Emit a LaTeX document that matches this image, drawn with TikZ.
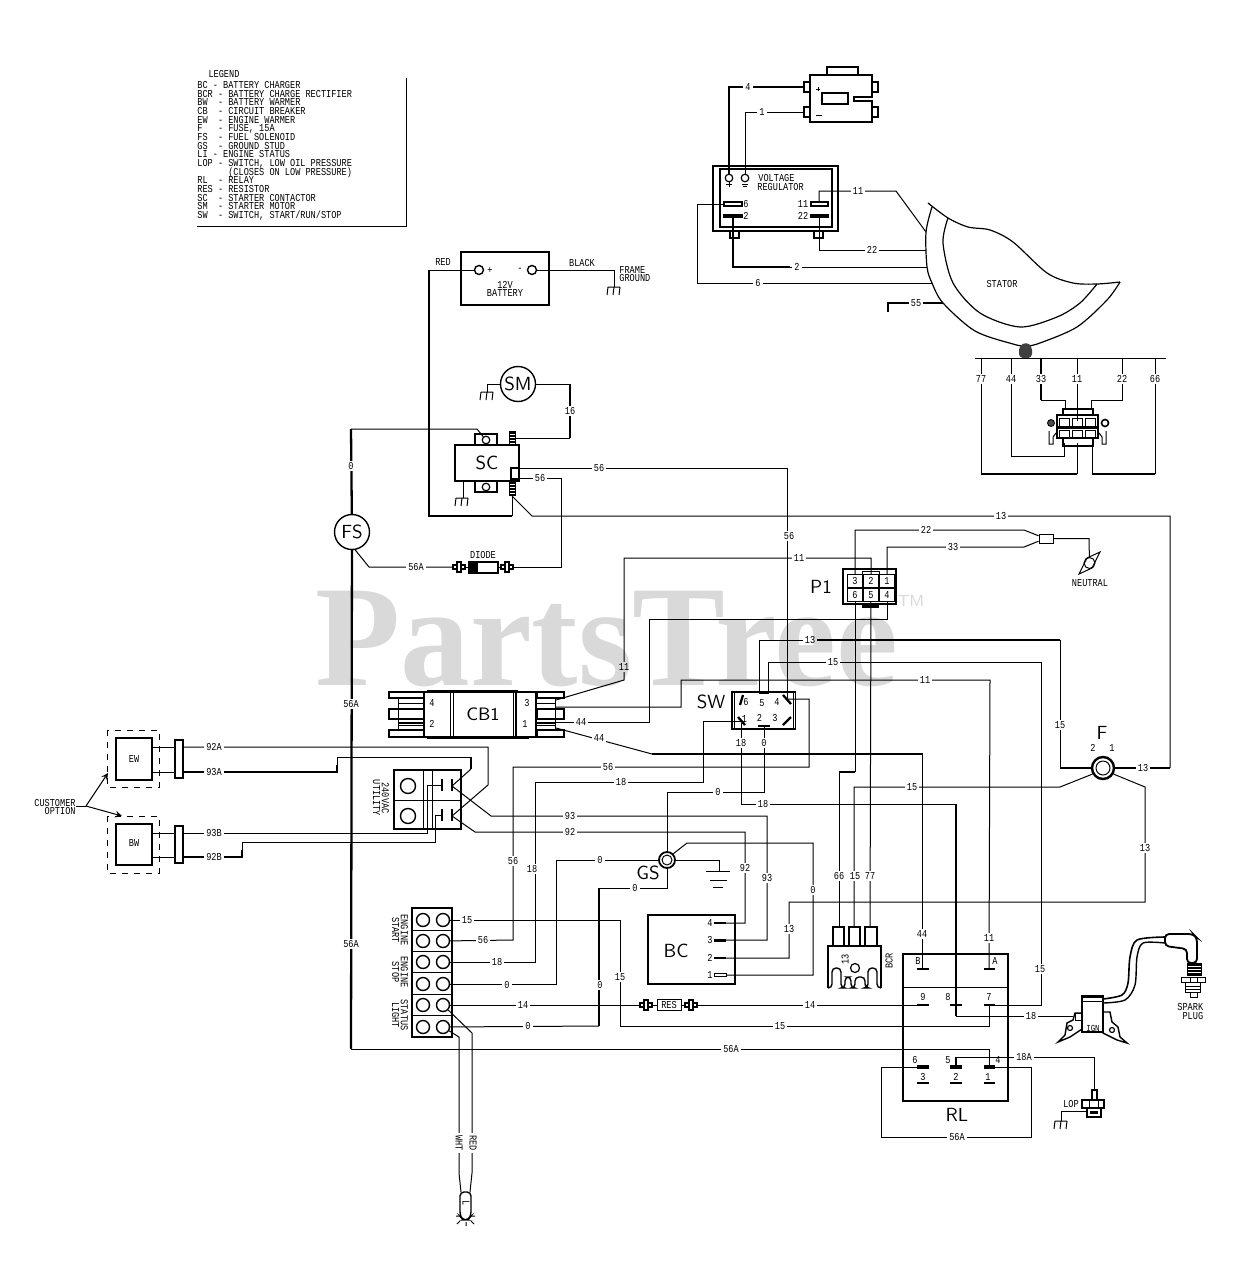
\documentclass[tikz,border=0pt]{standalone}
\usepackage{fontspec}
\setmainfont{Liberation Mono}[FakeStretch=0.81]
\newfontfamily\wmfont{Liberation Serif}[FakeStretch=0.967]
\tikzset{
  x=0.5pt,y=-0.5pt,
  wire/.style={line width=0.5pt,line join=miter},
  hvw/.style={line width=1.15pt,line join=miter},
  part/.style={line width=0.6pt,fill=white},
  txt/.style={font=\fontsize{5.3}{4.4}\selectfont,inner sep=0pt,align=center},
  lbl/.style={txt,fill=white,inner xsep=1pt,inner ysep=0.6pt},
  biglbl/.style={font=\sffamily\fontsize{9.5}{12}\selectfont,inner sep=0pt},
  term/.style={circle,draw,line width=0.7pt,fill=white,inner sep=0pt,minimum size=6.5pt},
  smallterm/.style={circle,draw,line width=0.6pt,fill=white,inner sep=0pt,minimum size=3.8pt},
  cell/.style={draw,line width=0.7pt,fill=white,inner sep=0pt,minimum width=7.5pt,minimum height=6.5pt,font=\fontsize{5.3}{5}\selectfont},
}
\def\frameground(#1,#2) {\draw[wire] (#1-6,#2)--(#1+6,#2) (#1-6,#2)--(#1-7,#2+8) (#1,#2)--(#1-1,#2+8) (#1+6,#2)--(#1+5,#2+8);}
\def\plugbit(#1,#2) {\draw[part] (#1-6,#2-2) rectangle (#1+6,#2+2); \draw[part] (#1-2,#2-5) rectangle (#1+2,#2+5);}
\begin{document}
\begin{tikzpicture}
	\useasboundingbox (0,0) rectangle (1233,1280);
	\fill[white] (0,0) rectangle (1233,1280);

	%LEGEND
	\node[txt,anchor=base] (legendhead) at (224,77) {LEGEND};
	\node[font={\fontsize{5.3}{4.33}\selectfont\lineskiplimit=-5pt\relax},inner sep=0pt,align=left,anchor=north west] (legendtext) at (197,81) {%
		BC - BATTERY CHARGER\\
		BCR - BATTERY CHARGE RECTIFIER\\
		BW~~- BATTERY WARMER\\
		CB~~- CIRCUIT BREAKER\\
		EW~~- ENGINE WARMER\\
		F~~~- FUSE, 15A\\
		FS~~- FUEL SOLENOID\\
		GS~~- GROUND STUD\\
		LI~- ENGINE STATUS\\
		LOP - SWITCH, LOW OIL PRESSURE\\
		~~~~~~(CLOSES ON LOW PRESSURE)\\
		RL~~- RELAY\\
		RES - RESISTOR\\
		SC~~- STARTER CONTACTOR\\
		SM~~- STARTER MOTOR\\
		SW~~- SWITCH, START/RUN/STOP};
	\draw[wire] (406,78)--(406,226)--(197,226);

	%METER
	\draw[part] (827,67) rectangle (858,75);
	\draw[part] (804,82) rectangle (810,92);
	\draw[part] (804,107) rectangle (810,117);
	\draw[part] (872,82) rectangle (878,92);
	\draw[part] (872,107) rectangle (878,117);
	\draw[line width=0.7pt] (872,97)--(854,97)--(854,101)--(872,101)--(872,122)--(810,122)--(810,75)--(872,75)--cycle;
	\draw[line width=0.7pt] (822,93) rectangle (848,104);
	\draw[wire] (816,89)--(820,89) (818,87)--(818,91) (816,115)--(822,115);
	\coordinate (meterp) at (804,87);
	\coordinate (meterm) at (804,112);

	%VOLTAGE REGULATOR
	\draw[part] (730,231) rectangle (739,238);
	\draw[part] (814,231) rectangle (823,238);
	\draw[line width=0.7pt] (713,166) rectangle (838,231);
	\draw[line width=0.7pt] (720,169) rectangle (832,227);
	\draw[hvw] (713,166)--(838,166) (720,169)--(832,169);
	\node[smallterm] (vrplus) at (729,178) {};
	\node[smallterm] (vrminus) at (745,178) {};
	\draw[wire] (729,181)--(729,187) (726,184)--(732,184) (742,184)--(748,184) (743,186)--(747,186);
	\node[txt,anchor=west] (vrtext) at (758,178) {VOLTAGE};
	\node[txt,anchor=west] (vrtextb) at (757,187) {REGULATOR};
	\draw[part] (724,202) rectangle (742,206);
	\draw[line width=1pt,fill=white] (724,214.5) rectangle (742,217);
	\draw[part] (811,202) rectangle (828,206);
	\draw[line width=1pt,fill=white] (811,214.5) rectangle (828,217);
	\node[txt] (vrsix) at (746,204) {6};
	\node[txt] (vrtwo) at (746,216) {2};
	\node[txt] (vreleven) at (803,204) {11};
	\node[txt] (vrtwotwo) at (803,216) {22};
	\coordinate (vr6) at (724,204);
	\coordinate (vr2) at (733,217);
	\coordinate (vr11) at (819,202);
	\coordinate (vr22) at (819,217);

	%STATOR
	\coordinate (st11) at (926,232);
	\coordinate (st22) at (926,250);
	\coordinate (st2) at (927,267);
	\coordinate (st6) at (932,283);
	\coordinate (st55) at (943,303);
	\draw[line width=0.6pt] plot[smooth] coordinates {(928,203) (948,218) (968,227) (990,230) (1013,242) (1047,273) (1073,283) (1097,284) (1120,282)};
	\draw[line width=0.6pt] plot[smooth] coordinates {(932,207) (926,232) (927,267) (932,283) (943,303) (975,331) (1013,344) (1026,346) (1040,343) (1077,327) (1107,300) (1120,282)};
	\draw[line width=0.6pt] plot[smooth] coordinates {(948,218) (943,243) (953,283) (980,313) (1020,327) (1057,317) (1080,303) (1097,284)};
	\node[txt] (statorname) at (1002,284) {STATOR};
	\fill[black!75,rounded corners=2pt] (1019,358) -- (1019,346) -- (1026,342) -- (1032,346) -- (1032,358) -- cycle;
	\draw[wire] (975,358)--(1166,358);

	%STATOR PLUG
	\draw[part] (1063,409) rectangle (1093,446);
	\draw[line width=0.9pt,fill=white] (1057,415) rectangle (1098,427);
	\draw[line width=0.9pt,fill=white] (1057,428) rectangle (1098,438);
	\foreach \px in {1064,1077,1090} {
		\draw[wire] (\px-5,418) rectangle (\px+5,426);
		\draw[wire] (\px-5,430) rectangle (\px+5,437);
	}
	\node[circle,draw,fill=black!70,inner sep=0pt,minimum size=3.5pt] (plugscrewa) at (1051,423) {};
	\node[circle,draw,fill=white,line width=0.8pt,inner sep=0pt,minimum size=3.5pt] (plugscrewb) at (1105,423) {};
	\draw[wire] (1049,431)--(1049,444)--(1053,444)--(1053,437)--(1056,433);
	\draw[wire] (1106,431)--(1106,444)--(1102,444)--(1102,437)--(1099,433);

	%BATTERY, STARTER
	\draw[line width=0.7pt] (461,252) rectangle (549,305);
	\node[circle,draw,line width=0.7pt,inner sep=0pt,minimum size=4.5pt] (battp) at (479,270) {};
	\node[circle,draw,line width=0.7pt,inner sep=0pt,minimum size=4.5pt] (battm) at (532,270) {};
	\node[txt] (battplus) at (490,270) {+};
	\node[txt] (battminus) at (520,270) {-};
	\node[txt] (battname) at (505,289) {12V\\BATTERY};
	\node[txt] (redname) at (443,262) {RED};
	\node[txt] (blackname) at (582,263) {BLACK};
	\node[txt,align=left,anchor=west] (framename) at (619,274) {FRAME\\GROUND};
	\frameground(614,287)
	\node[circle,draw,line width=0.7pt,inner sep=0pt,minimum size=17.5pt,font=\sffamily\fontsize{9.5}{12}\selectfont] (sm) at (518,384) {SM};
	\frameground(487,392)
	\node[draw,line width=0.7pt,fill=white,inner sep=0pt,minimum width=32pt,minimum height=18pt,font=\sffamily\fontsize{9.5}{12}\selectfont] (sc) at (487,463) {SC};
	\draw[part] (475,434) rectangle (497,445);
	\draw[part] (475,481) rectangle (497,492);
	\node[smallterm] (scpost) at (486,440) {};
	\node[smallterm] (scpostb) at (486,487) {};
	\fill (509,431) rectangle (516,445);
	\fill (509,481) rectangle (516,496);
	\foreach \sy in {434,437,440,443,484,487,490,493}
		\draw[white,line width=0.4pt] (510,\sy)--(515,\sy);
	\draw[line width=0.7pt,fill=white] (511,468) rectangle (519,479);
	\frameground(462,498)
	\coordinate (scstud) at (516,438);
	\coordinate (scstudb) at (512,496);
	\coordinate (scspade) at (519,468);
	\coordinate (scspadeb) at (519,478);

	%FS, DIODE
	\node[circle,draw,line width=0.7pt,inner sep=0pt,minimum size=17.5pt,font=\sffamily\fontsize{9.5}{12}\selectfont] (fs) at (352,532) {FS};
	\plugbit(459,567)
	\plugbit(507,567)
	\draw[part] (469,562) rectangle (498,573);
	\fill (469,562) rectangle (478,573);
	\node[txt] (diodename) at (483,555) {DIODE};

	%P1, NEUTRAL
	\draw[line width=1pt] (843,569) rectangle (896,604);
	\draw[wire,fill=white] (862,571) rectangle (879,575);
	\fill (862,604) rectangle (879,608);
	\node[cell] (pc3) at (855,581) {3};
	\node[cell] (pc2) at (871,581) {2};
	\node[cell] (pc1) at (887,581) {1};
	\node[cell] (pc6) at (855,595) {6};
	\node[cell] (pc5) at (871,595) {5};
	\node[cell] (pc4) at (887,595) {4};
	\node[biglbl] (p1name) at (821,587) {P1};
	\node[draw,wire,fill=white,inner sep=0pt,minimum width=7pt,minimum height=4.5pt] (ntbox) at (1046,538.5) {};
	\node[circle,draw,wire,inner sep=0pt,minimum size=5.5pt] (nt) at (1089.5,563) {};
	\draw[wire] (1100,552)--(1092,568)--(1079,574)--(1087,558)--cycle;
	\node[txt] (ntname) at (1090,583) {NEUTRAL};

	%SW
	\draw[line width=0.7pt] (732,692) rectangle (795.5,729);
	\draw[wire] (734,692)--(734,729) (793.5,692)--(793.5,729);
	\node[biglbl] (swname) at (711,702) {SW};
	\foreach \sx/\sy/\st [count=\si] in {746/702/6,762/703/5,777/702/4,744.5/719/1,759.5/718/2,775/718/3}
		\node[txt] (swpin\si) at (\sx,\sy) {\st};
	\draw[hvw] (740,705)--(743,695) (783,695)--(791,704) (738,717)--(745,725) (783,725)--(791,717);
	\draw[hvw] (759,693)--(769,693) (758,726)--(770,726);

	%FUSE
	\node[circle,draw,line width=1.2pt,inner sep=0pt,minimum size=11pt] (fuse) at (1103,768) {};
	\draw[wire] (1103,768) circle (7);
	\node[biglbl] (fusename) at (1102,733) {F};
	\node[txt] (fusetwo) at (1093,748) {2};
	\node[txt] (fuseone) at (1112,748) {1};

	%CB1
	\foreach \cy/\ch in {692/6,709/10,730/7} {
		\draw[part] (389,\cy) rectangle (424,\cy+\ch);
		\draw[part] (537,\cy) rectangle (564,\cy+\ch);
	}
	\draw[wire] (398,698)--(398,730) (555,698)--(555,730);
	\draw[wire] (398,703)--(424,703) (398,725)--(424,725) (537,703)--(555,703) (537,725)--(555,725);
	\draw[line width=0.8pt] (398,723)--(424,723) (537,723)--(555,723);
	\draw[line width=0.7pt] (424,692) rectangle (536,737);
	\draw[wire] (427,737) rectangle (528,738.5);
	\draw[hvw] (427,691.5)--(518,691.5);
	\draw[wire] (450,692)--(450,737) (453,692)--(453,737) (513,692)--(513,737);
	\draw[line width=0.9pt] (516,692)--(516,737);
	\node[font=\sffamily\fontsize{9}{11}\selectfont,inner sep=0pt] (cbname) at (483,714) {CB1};
	\foreach \cx/\cy/\ct [count=\ci] in {432/703/4,432/724/2,527/703/3,525/724/1}
		\node[txt] (cbpin\ci) at (\cx,\cy) {\ct};
	\coordinate (cb3) at (556,700);
	\coordinate (cbm) at (556,707);
	\coordinate (cb1) at (556,722);
	\coordinate (cbb) at (556,728);

	%WARMERS
	\draw[dashed,wire] (107,730) rectangle (159,787);
	\draw[dashed,wire] (107,816) rectangle (159,873);
	\draw[line width=0.7pt] (116,738) rectangle (152,780);
	\draw[line width=0.7pt] (116,824) rectangle (152,865);
	\node[txt] (ewname) at (134,759) {EW};
	\node[txt] (bwname) at (134,843) {BW};
	\draw[line width=0.7pt,fill=white] (175,740) rectangle (183,778);
	\draw[line width=0.7pt,fill=white] (175,826) rectangle (183,863);
	\draw[wire] (152,747)--(175,747) (152,772)--(175,772) (152,833)--(175,833) (152,857)--(175,857);
	\node[txt,anchor=east,align=right] (custopt) at (76,807) {CUSTOMER\\OPTION};
	\coordinate (optjoin) at (86,806);
	\coordinate (optew) at (108,773);
	\coordinate (optbw) at (122,816);
	\draw[wire] (custopt.east |- optjoin)--(optjoin);
	\draw[wire,->,>=stealth] (optjoin)--(optew);
	\draw[wire,->,>=stealth] (optjoin)--(optbw);

	%UTILITY OUTLET
	\draw[line width=0.7pt] (394,770) rectangle (461,829);
	\draw[wire] (394,800)--(461,800) (423,770)--(423,829) (432,770)--(432,829);
	\node[term,fill=none,minimum size=7.5pt] (outa) at (408,786) {};
	\node[term,fill=none,minimum size=7.5pt] (outb) at (408,816) {};
	\draw[line width=1pt] (442,779)--(442,791) (452,779)--(452,791) (442,809)--(442,821) (452,809)--(452,821);
	\node[txt,rotate=-90] (utilname) at (381,798) {240VAC\\UTILITY};
	\coordinate (outla) at (442,785);
	\coordinate (outlb) at (442,815);
	\coordinate (outra) at (452,786);
	\coordinate (outrb) at (452,816);

	%ENGINE TERMINAL STRIP
	\draw[line width=0.7pt] (412,908) rectangle (452,1037);
	\foreach \ty [count=\ti] in {920,941,962,984,1005,1027} {
		\node[term] (tl\ti) at (423,\ty) {};
		\node[term] (tr\ti) at (443,\ty) {};
	}
	\draw[wire] (412,930.5)--(452,930.5) (412,951.5)--(452,951.5) (412,972.5)--(452,972.5) (412,994.5)--(452,994.5) (412,1015.5)--(452,1015.5);
	\node[txt,rotate=-90] (tsstart) at (400,930) {ENGINE\\START};
	\node[txt,rotate=-90] (tsstop) at (400,972) {ENGINE\\STOP};
	\node[txt,rotate=-90] (tslight) at (400,1015) {STATUS\\LIGHT};

	%STATUS LAMP
	\draw[line width=0.7pt,rounded corners=2pt] (460,1192)--(460,1216)--(463,1220)--(468,1220)--(471,1216)--(471,1192)--cycle;
	\node[txt,rotate=-90] (lampname) at (466,1203) {L};
	\draw[wire] (456,1216)--(460,1216) (471,1216)--(475,1216) (460,1221)--(457,1224) (471,1221)--(474,1224) (466,1222)--(466,1226);
	\coordinate (lampw) at (461,1192);
	\coordinate (lampr) at (470,1192);

	%GS
	\node[circle,draw,line width=0.9pt,inner sep=0pt,minimum size=8pt] (gs) at (667,860) {};
	\draw[wire] (667,860) circle (5);
	\node[biglbl] (gsname) at (648,873) {GS};
	\coordinate (earth) at (719,871);
	\draw[wire] (706,871)--(730,871) (710,880)--(727,880) (713,887)--(723,887);

	%BC
	\draw[line width=0.7pt] (648,915) rectangle (735,984);
	\node[biglbl] (bcname) at (676,951) {BC};
	\foreach \by/\bt [count=\bi] in {923/4,940/3,958/2,975/1} {
		\node[txt] (bcpin\bi) at (710,\by) {\bt};
		\coordinate (bc\bt) at (726,\by);
	}
	\draw[line width=1pt] (714,923)--(726,923) (714,958)--(726,958);
	\draw[line width=1.5pt] (714,940)--(726,940);
	\draw[line width=0.4pt] (714,973.5)--(726,973.5)--(726,976.5)--(714,976.5)--cycle;

	%RES
	\plugbit(646,1005)
	\plugbit(691,1005)
	\node[draw,wire,fill=white,inner sep=0pt,minimum width=12pt,minimum height=5.5pt,font=\fontsize{5.3}{5}\selectfont] (res) at (669,1005) {RES};

	%BCR
	\foreach \bx/\bw in {833/11,849/11,865/12}
		\draw[line width=0.7pt,fill=white] (\bx,927) rectangle (\bx+\bw,946);
	\draw[line width=0.7pt] (828,988)--(828,946)--(881,946)--(881,988);
	\draw[line width=0.7pt,rounded corners=2pt] (828,988)--(832,988)--(832,968)--(841,968)--(841,988)--(845,988)--(845,977)--(851,977)--(851,988)--(855,988)--(855,977)--(865,977)--(865,988)--(868,988)--(868,968)--(877,968)--(877,988)--(881,988);
	\node[smallterm,minimum size=4.5pt] (bcrpost) at (855,968) {};
	\node[txt,rotate=90] (bcrthirteen) at (845,959) {13};
	\node[txt,rotate=90] (bcrname) at (889,961) {BCR};
	\coordinate (bcr66) at (839,927);
	\coordinate (bcr15) at (854,927);
	\coordinate (bcr77) at (870,927);

	%RELAY
	\draw[line width=0.7pt] (903,954) rectangle (1008,1101);
	\draw[wire] (903,987)--(1008,987);
	\draw[hvw] (917,969)--(929,969) (984,969)--(995,969) (917,1005)--(929,1005) (950,1005)--(962,1005) (984,1005)--(995,1005);
	\draw[line width=1.6pt] (917,1067)--(929,1067) (950,1067)--(962,1067) (984,1067)--(995,1067);
	\draw[hvw] (917,1083)--(929,1083) (950,1083)--(962,1083) (984,1083)--(995,1083);
	\foreach \rx/\ry/\rt in {918/961/B,995/961/A,923/997/9,948/997/8,989/997/7,915/1060/6,948/1060/5,998/1060/4,923/1077/3,956/1077/2,988/1077/1}
		\node[txt] (rlpin\rt) at (\rx,\ry) {\rt};
	\node[biglbl] (rlname) at (957,1115) {RL};
	\coordinate (rlB) at (922,969);
	\coordinate (rlA) at (989,969);
	\coordinate (rl9) at (917,1005);
	\coordinate (rl7) at (989,1005);
	\coordinate (rl6) at (917,1067);
	\coordinate (rl5) at (956,1067);
	\coordinate (rl4) at (989,1067);
	\coordinate (rl4b) at (995,1067);

	%LOP
	\draw[part] (1092,1090) rectangle (1097,1100);
	\draw[part] (1082,1100) rectangle (1104,1108);
	\draw[wire] (1089,1100) rectangle (1098,1108);
	\draw[line width=0.7pt,fill=white] (1087,1108) rectangle (1101,1117);
	\fill (1090,1111) rectangle (1098,1114);
	\node[txt] (lopname) at (1071,1104) {LOP};
	\frameground(1061,1121)
	\coordinate (lopin) at (1094,1090);
	\coordinate (lopgnd) at (1087,1111);

	%IGN, SPARK PLUG
	\draw[line width=0.7pt,fill=white] (1082,1013)--(1075,1013)--(1073,1020)--(1067,1023)--(1065,1035)--(1058,1042)--(1070,1037)--(1082,1029)--cycle;
	\draw[line width=0.7pt,fill=white] (1103,1012)--(1110,1012)--(1112,1022)--(1118,1027)--(1120,1037)--(1127,1043)--(1117,1040)--(1103,1033)--cycle;
	\draw[line width=0.7pt,fill=white] (1082,996) rectangle (1103,1032);
	\draw[hvw] (1082,996.5)--(1103,996.5);
	\draw[wire] (1082,1001)--(1103,1001);
	\node[font=\fontsize{4.6}{5}\selectfont,inner sep=0pt] (ignname) at (1093,1028) {IGN};
	\node[smallterm,minimum size=2.5pt] (igna) at (1070,1028) {};
	\node[smallterm,minimum size=2.5pt] (ignb) at (1112,1030) {};
	\draw[wire,fill=white] (1075,1013) rectangle (1081,1020);
	\draw[line width=0.8pt] plot[smooth] coordinates {(1103,999) (1122,995) (1128,983) (1130,957) (1137,940) (1165,937)};
	\draw[line width=0.7pt] plot[smooth] coordinates {(1103,1003) (1125,1000) (1135,985) (1137,957) (1143,943) (1165,943)};
	\draw[line width=0.9pt,fill=white,rounded corners=2pt] (1165,934)--(1193,934)--(1197,938)--(1197,963)--(1187,963)--(1187,949)--(1165,946)--cycle;
	\draw[wire,fill=white] (1187,963) rectangle (1201,975);
	\foreach \ry in {965,968,971,974}
		\draw[line width=0.9pt] (1187,\ry)--(1201,\ry);
	\draw[wire,fill=white] (1181,977) rectangle (1205,982);
	\draw[wire] (1190,977)--(1190,982) (1197,977)--(1197,982);
	\draw[wire,fill=white] (1185,982) rectangle (1200,992);
	\draw[wire] (1185,986)--(1200,986) (1185,989)--(1200,989);
	\draw[wire] (1190,992)--(1190,997)--(1197,997)--(1197,992);
	\node[txt,align=left,anchor=west] (plugname) at (1177,1011.5) {SPARK\\~PLUG};
	\coordinate (ign18) at (1073,1016);

	%WIRES, TOP RIGHT
	\draw[hvw] (vrplus)--(729,87)--(meterp);
	\draw[wire] (vrminus)--(745,112)--(meterm);
	\draw[wire] (vr11)--(819,191)--(896,191)--(st11);
	\draw[wire] (vr22)--(819,250)--(st22);
	\draw[hvw] (vr2)--(733,267)--(790,267);
	\draw[wire] (790,267)--(st2);
	\draw[wire] (vr6)--(697,204)--(697,283)--(st6);
	\draw[hvw] (888,312)--(888,303)--(st55);
	\draw[wire] (981,358)--(981,474);
	\draw[hvw] (981,474)--(1077,474);
	\draw[wire] (1077,474)--(1077,443);
	\draw[wire] (1011,358)--(1011,456)--(1064,456)--(1064,443);
	\draw[hvw] (1041,358)--(1041,400);
	\draw[wire] (1041,400)--(1065,400)--(1065,410);
	\draw[wire] (1077,358)--(1077,421);
	\draw[wire] (1122,358)--(1122,400)--(1091,400)--(1091,410);
	\draw[wire] (1155,358)--(1155,474);
	\draw[hvw] (1155,474)--(1092,474);
	\draw[wire] (1092,474)--(1092,443);

	%WIRES, BATTERY AND STARTER
	\draw[wire] (battp)--(429,270);
	\draw[hvw] (429,270)--(429,516)--(512,516);
	\draw[wire] (512,516)--(scstudb);
	\draw[wire] (battm)--(614,270)--(614,287);
	\draw[wire] (sm)--(487,384)--(487,392);
	\draw[wire] (sm)--(570,384);
	\draw[hvw] (570,384)--(570,438);
	\draw[wire] (570,438)--(scstud);
	\draw[wire] (463,481)--(463,498);
	\draw[hvw] (fs)--(351,429);
	\draw[wire] (351,429)--(477,429)--(scpost);
	\draw[wire] (scstudb)--(532,516)--(1170,516)--(1170,768);
	\draw[hvw] (1170,768)--(fuse);
	\draw[wire] (scspade)--(787,468)--(787,699);
	\draw[wire] (scspadeb)--(561,478)--(561,567)--(513,567);
	\draw[wire] (fs.280)--(369,567)--(453,567);
	\draw[wire] (465,567)--(469,567) (498,567)--(501,567);
	\draw[hvw] (fs)--(351,1049);
	\draw[wire] (351,1049)--(989,1049)--(rl4);

	%WIRES, P1
	\draw[wire] (pc3)--(855,530)--(1024,530)--(ntbox.160);
	\draw[wire] (pc1)--(887,547)--(1024,547)--(ntbox.200);
	\draw[wire] (ntbox)--(1089,538.5)--(nt);
	\draw[wire] (pc2)--(871,558)--(624,558)--(624,680)--(cb3);
	\draw[wire] (pc4)--(887,619)--(649,619)--(649,722)--(cb1);
	\draw[wire] (cbm)--(681,707)--(681,680)--(990,680)--(rlA);
	\draw[wire] (cbb)--(652,754);
	\draw[hvw] (652,754)--(923,754);
	\draw[wire] (922,754)--(rlB);
	\draw[wire] (pc6)--(855,772);
	\draw[hvw] (855,772)--(839,772);
	\draw[wire] (839,772)--(bcr66);
	\draw[wire] (pc5)--(bcr77);

	%WIRES, SW AND FUSE
	\draw[wire] (759.5,693)--(759.5,640)--(810,640);
	\draw[hvw] (810,640)--(1060,640);
	\draw[wire] (1060,640)--(1060,768);
	\draw[hvw] (1060,768)--(fuse);
	\draw[wire] (768,693)--(768,662)--(1041,662)--(1041,1005)--(rl7);
	\draw[wire] (788,699)--(809,699)--(809,767)--(513,767)--(513,940)--(tr2);
	\draw[wire] (743,721)--(703,721)--(703,782)--(535,782)--(535,962)--(tr3);
	\draw[wire] (741,723)--(741,804)--(956,804);
	\draw[hvw] (956,804)--(956,1016);
	\draw[wire] (956,1016)--(ign18);
	\draw[wire] (764,726)--(764,792)--(667,792)--(gs);
	\draw[wire] (bcr15)--(854,787)--(1060,787)--(fuse.210);
	\draw[wire] (fuse.-30)--(1145,787)--(1145,902)--(789,902)--(789,958)--(bc2);

	%WIRES, GS
	\draw[wire] (gs)--(556,860)--(556,984)--(tr4);
	\draw[wire] (gs)--(719,860)--(earth);
	\draw[wire] (gs)--(667,888)--(599,888);
	\draw[hvw] (599,888)--(599,1026);
	\draw[wire] (599,1026)--(tr6);
	\draw[wire] (gs.45)--(687,843)--(813,843)--(813,975)--(bc1);

	%WIRES, OUTLET AND WARMERS
	\draw[wire] (outla)--(427,785)--(427,833)--(183,833);
	\draw[wire] (outlb)--(435,815)--(435,842)--(242,842)--(242,850);
	\draw[hvw] (242,850)--(242,857)--(183,857);
	\draw[wire] (outra)--(471,769);
	\draw[hvw] (471,769)--(471,757);
	\draw[wire] (471,757)--(337,757)--(337,765);
	\draw[hvw] (337,765)--(337,772)--(183,772);
	\draw[wire] (outrb)--(488,785)--(488,747)--(183,747);
	\draw[wire] (452,786)--(491,816)--(767,816)--(767,940)--(bc3);
	\draw[wire] (452,816)--(475,832)--(745,832)--(745,923)--(bc4);

	%WIRES, STRIP TO RELAY
	\draw[wire] (tr1)--(620,920)--(620,1026)--(989,1026)--(rl7);
	\draw[wire] (tr5)--(640,1005) (652,1005)--(657,1005) (681,1005)--(685,1005) (697,1005)--(rl9);
	\draw[wire] (tr5)--(472,1033)--(472,1173)--(lampr);
	\draw[wire] (tr6)--(459,1037)--(459,1173)--(lampw);
	\draw[hvw] (rl5)--(956,1057);
	\draw[wire] (956,1057)--(1094,1057)--(lopin);
	\draw[wire] (rl6)--(881,1067)--(881,1137)--(1031,1137)--(1031,1067)--(rl4b);
	\draw[wire] (lopgnd)--(1061,1111)--(1061,1121);

	%WIRE LABELS
	\foreach \wx/\wy/\wt [count=\wi] in {748/87/4,762/112/1,858/191/11,872/250/22,797/267/2,758/283/6,916/303/55,
		981/379/77,1011/379/44,1041/379/33,1077/379/11,1122/379/22,1155/379/66,
		570/411/16,351/466/0,599/468/56,540/478/56,416/567/56A,789/536/56,
		926/530/22,953/547/33,799/558/11,624/667/11,581/722/44,599/738/44,1001/516/13,1143/768/13,810/640/13,1060/725/15,833/662/15,925/680/11,
		1040/969/15,741/743/18,764/743/0,718/792/0,763/804/18,912/787/15,
		608/767/56,513/861/56,483/940/56,621/782/18,532/869/18,497/962/18,600/860/0,507/985/0,635/888/0,600/985/0,528/1026/0,813/890/0,
		570/816/93,767/878/93,570/832/92,745/868/92,789/929/13,467/920/15,620/977/15,780/1026/15,523/1005/14,810/1005/14,1145/848/13,
		839/876/66,855/876/15,870/876/77,922/934/44,989/938/11,1031/1016/18,1024/1057/18A,957/1137/56A,731/1049/56A,351/704/56A,351/944/56A,
		214/747/92A,214/772/93A,214/833/93B,214/857/92B}
		\node[lbl] (wlabel\wi) at (\wx,\wy) {\wt};
	\node[lbl,rotate=-90] (whtname) at (459,1143) {WHT};
	\node[lbl,rotate=-90] (redlampname) at (473,1143) {RED};

	%WATERMARK
	\begin{scope}[blend mode=multiply]
		\node[font=\wmfont\bfseries\fontsize{72}{72}\selectfont,text=black!15,inner sep=0pt,anchor=base west] (wmark) at (315,685) {PartsTree};
		\node[font=\sffamily\fontsize{8}{8}\selectfont,text=black!15,inner sep=0pt] (wmarktm) at (911,601) {TM};
	\end{scope}
\end{tikzpicture}
\end{document}
